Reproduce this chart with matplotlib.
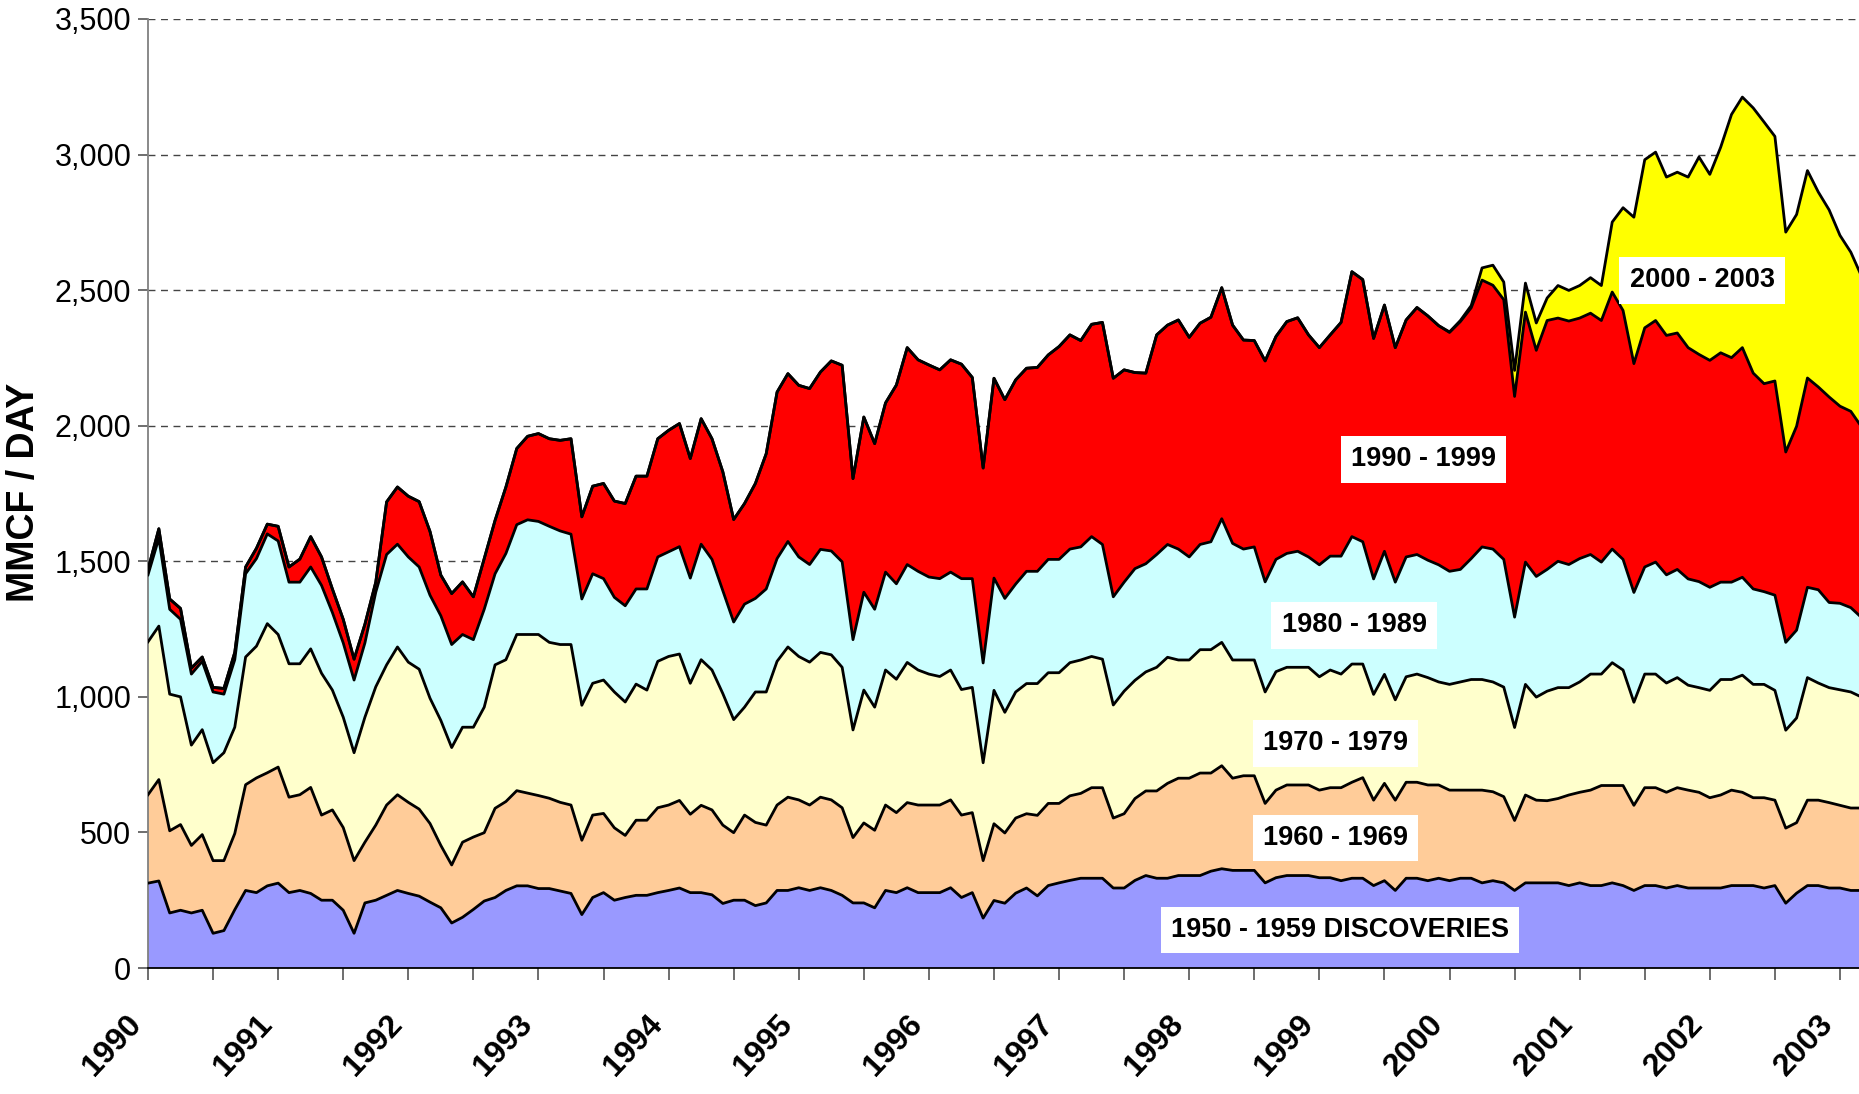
import matplotlib
matplotlib.use('Agg')
import matplotlib.pyplot as plt
import numpy as np

# stacked totals (MMCF/day), monthly from Jan 1990
top_50s = [313, 321, 203, 213, 203, 213, 128, 138, 215, 286, 278, 303,
           313, 278, 286, 275, 250, 250, 213, 128, 240, 250, 268, 286,
           275, 265, 243, 222, 166, 187, 216, 247, 260, 286, 303, 303,
           293, 293, 284, 275, 197, 260, 278, 250, 260, 268, 268, 278,
           286, 295, 278, 278, 270, 238, 250, 250, 230, 240, 286, 286,
           296, 286, 296, 286, 268, 240, 240, 222, 286, 278, 296, 278,
           278, 278, 296, 260, 278, 184, 249, 239, 276, 295, 266, 304,
           314, 323, 331, 331, 331, 295, 295, 323, 341, 331, 331, 341,
           341, 341, 357, 366, 360, 360, 360, 314, 333, 341, 341, 341,
           333, 333, 322, 331, 331, 304, 322, 286, 331, 331, 322, 331,
           322, 331, 331, 314, 322, 314, 286, 314, 314, 314, 314, 304,
           314, 304, 304, 314, 304, 286, 304, 304, 295, 304, 295, 295,
           295, 295, 304, 304, 304, 295, 304, 239, 276, 304, 304, 295,
           295, 286, 286]
top_60s = [639, 695, 506, 529, 452, 492, 396, 396, 496, 676, 701, 720,
           741, 630, 639, 666, 564, 583, 518, 396, 464, 527, 601, 639,
           611, 586, 533, 452, 380, 464, 483, 499, 589, 614, 654, 645,
           636, 626, 611, 601, 471, 564, 570, 517, 489, 545, 545, 591,
           601, 618, 567, 600, 583, 527, 499, 564, 537, 527, 601, 630,
           620, 601, 630, 620, 591, 481, 535, 508, 601, 573, 610, 601,
           601, 601, 620, 564, 573, 396, 532, 498, 553, 569, 563, 607,
           607, 635, 644, 665, 665, 553, 569, 625, 653, 653, 681, 700,
           700, 719, 719, 746, 700, 709, 709, 607, 656, 675, 675, 675,
           656, 665, 665, 685, 702, 619, 681, 619, 685, 685, 675, 675,
           656, 656, 656, 656, 650, 632, 544, 638, 619, 617, 625, 638,
           648, 656, 673, 673, 673, 600, 665, 665, 648, 665, 656, 648,
           628, 638, 656, 648, 628, 628, 619, 516, 536, 619, 619, 610,
           600, 590, 590]
top_70s = [1203, 1261, 1010, 1000, 822, 879, 757, 794, 888, 1147, 1187, 1270,
           1230, 1122, 1122, 1177, 1087, 1025, 925, 794, 925, 1037, 1118, 1184,
           1128, 1102, 995, 913, 813, 888, 888, 962, 1118, 1137, 1230, 1230,
           1230, 1201, 1193, 1193, 969, 1050, 1062, 1018, 981, 1047, 1025, 1131,
           1149, 1158, 1050, 1137, 1099, 1012, 916, 962, 1018, 1018, 1131, 1184,
           1149, 1128, 1164, 1155, 1109, 878, 1025, 962, 1099, 1065, 1127, 1099,
           1084, 1075, 1099, 1027, 1035, 757, 1024, 943, 1018, 1049, 1049, 1089,
           1089, 1126, 1136, 1149, 1139, 970, 1021, 1061, 1092, 1109, 1146, 1136,
           1136, 1174, 1174, 1201, 1136, 1136, 1136, 1018, 1093, 1109, 1109, 1109,
           1074, 1099, 1084, 1121, 1121, 1009, 1083, 989, 1074, 1084, 1071, 1055,
           1046, 1055, 1064, 1064, 1055, 1036, 887, 1046, 999, 1021, 1034, 1034,
           1055, 1084, 1084, 1126, 1099, 980, 1084, 1084, 1051, 1071, 1043, 1034,
           1024, 1064, 1064, 1080, 1046, 1046, 1024, 877, 922, 1071, 1051, 1034,
           1026, 1018, 999]
top_80s = [1450, 1585, 1323, 1286, 1084, 1131, 1018, 1010, 1137, 1454, 1510, 1601,
           1575, 1423, 1423, 1479, 1411, 1311, 1199, 1062, 1199, 1386, 1525, 1563,
           1516, 1479, 1375, 1299, 1193, 1230, 1211, 1323, 1454, 1529, 1635, 1653,
           1647, 1629, 1612, 1600, 1361, 1454, 1436, 1367, 1336, 1398, 1398, 1516,
           1535, 1554, 1438, 1563, 1507, 1392, 1276, 1342, 1363, 1398, 1510, 1573,
           1516, 1488, 1544, 1538, 1498, 1211, 1386, 1323, 1460, 1417, 1488, 1463,
           1442, 1436, 1460, 1436, 1436, 1125, 1438, 1363, 1416, 1463, 1463, 1507,
           1507, 1545, 1553, 1591, 1562, 1369, 1423, 1473, 1491, 1525, 1562, 1545,
           1516, 1562, 1572, 1657, 1566, 1545, 1553, 1424, 1507, 1529, 1537, 1516,
           1487, 1519, 1519, 1591, 1572, 1435, 1537, 1423, 1516, 1525, 1504, 1487,
           1463, 1470, 1510, 1553, 1545, 1507, 1294, 1497, 1444, 1470, 1500, 1488,
           1510, 1525, 1497, 1545, 1507, 1385, 1479, 1497, 1450, 1470, 1435, 1425,
           1404, 1423, 1423, 1441, 1398, 1388, 1375, 1201, 1246, 1404, 1395, 1348,
           1345, 1329, 1292]
top_90s = [1470, 1620, 1361, 1326, 1106, 1147, 1035, 1031, 1164, 1479, 1548, 1637,
           1629, 1479, 1508, 1591, 1516, 1398, 1286, 1139, 1268, 1423, 1719, 1774,
           1740, 1720, 1610, 1449, 1381, 1424, 1369, 1510, 1651, 1774, 1916, 1961,
           1971, 1952, 1946, 1952, 1664, 1777, 1787, 1722, 1713, 1814, 1814, 1952,
           1983, 2008, 1879, 2026, 1952, 1830, 1654, 1713, 1787, 1897, 2124, 2192,
           2149, 2137, 2198, 2239, 2223, 1805, 2032, 1934, 2084, 2150, 2288, 2243,
           2224, 2206, 2243, 2227, 2178, 1844, 2175, 2096, 2169, 2212, 2215, 2261,
           2292, 2335, 2314, 2374, 2381, 2175, 2206, 2196, 2194, 2335, 2371, 2390,
           2326, 2378, 2400, 2509, 2371, 2316, 2314, 2239, 2329, 2384, 2398, 2335,
           2288, 2335, 2381, 2568, 2539, 2322, 2445, 2288, 2390, 2436, 2405, 2369,
           2344, 2384, 2435, 2537, 2518, 2465, 2108, 2419, 2278, 2388, 2397, 2386,
           2397, 2415, 2388, 2493, 2425, 2229, 2361, 2388, 2333, 2342, 2288, 2263,
           2241, 2269, 2251, 2288, 2194, 2155, 2165, 1903, 1998, 2176, 2143, 2106,
           2072, 2053, 1995]
# total incl. 2000-2003 discoveries, from Jan 2000 on (before that = top_90s)
top_total_2000on = [2346, 2388, 2443, 2582, 2592, 2530, 2204, 2526, 2379, 2471, 2517, 2499,
                    2517, 2546, 2517, 2751, 2804, 2769, 2981, 3009, 2917, 2935, 2917, 2991,
                    2927, 3027, 3148, 3212, 3172, 3120, 3067, 2714, 2779, 2941, 2862, 2796,
                    2702, 2640, 2550]

years = list(range(1990, 2004))
layer_labels = ["1950 - 1959 DISCOVERIES", "1960 - 1969", "1970 - 1979",
                "1980 - 1989", "1990 - 1999", "2000 - 2003"]
label_x = [109.9, 109.5, 109.5, 111.2, 117.6, 143.3]
label_y = [140, 479, 829, 1264, 1876, 2536]
colors = ['#9999FF', '#FFCC99', '#FFFFCC', '#CCFFFF', '#FF0000', '#FFFF00']

font = 'Liberation Sans'

x = np.arange(len(top_50s))
total = np.array(top_90s[:120] + top_total_2000on)
bounds = [np.zeros(len(x)), np.array(top_50s), np.array(top_60s), np.array(top_70s),
          np.array(top_80s), np.array(top_90s), total]

fig = plt.figure(figsize=(18.59, 10.94), dpi=100)
ax = fig.add_axes([148/1859, 126/1094, 1 - 148/1859, 949/1094])

for i in range(6):
    ax.fill_between(x, bounds[i], bounds[i+1], facecolor=colors[i], edgecolor='none', zorder=2)
for i in range(1, 7):
    ax.plot(x, bounds[i], color='black', lw=2.0, zorder=3)

for s, lx, ly in zip(layer_labels, label_x, label_y):
    ax.text(lx, ly, s, ha='center', va='center', fontsize=19.5, fontweight='bold',
            family=font, zorder=5,
            bbox=dict(boxstyle='square,pad=0.38', fc='white', ec='none'))

ax.set_xlim(0, (1859 - 148) / 10.846)
ax.set_ylim(0, 3500)
ax.set_yticks(np.arange(0, 3501, 500))
ax.set_yticklabels(['{:,}'.format(v) for v in range(0, 3501, 500)], family=font, fontsize=22)
ax.set_xticks(np.arange(0, 157, 12))
ax.set_xticks(np.arange(6, 158, 12), minor=True)
ax.set_xticklabels([str(y) for y in years], rotation=47, ha='right', va='top',
                   fontsize=23, fontweight='bold', family=font)

ax.tick_params(axis='y', direction='out', length=7, width=1.2, color='#555555', pad=5)
ax.tick_params(axis='x', which='both', direction='out', length=8.5, width=1.2, color='#555555', pad=21)

ax.yaxis.grid(True, linestyle=(0, (5, 4)), color='#444444', lw=1.0)
ax.set_axisbelow(True)
for sp in ['top', 'right']:
    ax.spines[sp].set_visible(False)
ax.spines['left'].set_color('#808080')
ax.spines['left'].set_linewidth(1.3)
ax.spines['bottom'].set_color('black')
ax.spines['bottom'].set_linewidth(1.3)

fig.text(24/1859, 1 - 492/1094, 'MMCF / DAY', rotation=90, ha='center', va='center',
         fontsize=27, fontweight='bold', family=font)

plt.savefig('out.png', dpi=100)
